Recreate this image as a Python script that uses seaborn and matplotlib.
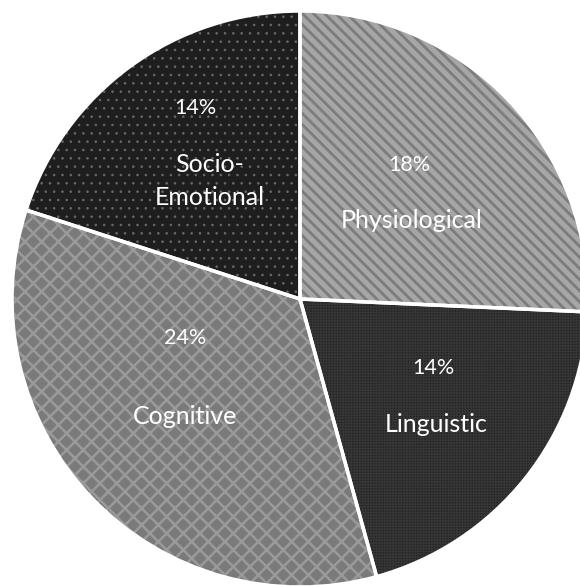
import matplotlib
matplotlib.use("Agg")
import matplotlib.pyplot as plt
import seaborn as sns

sns.set_style("white")
plt.rcParams['font.family'] = ['Lato', 'DejaVu Sans']
plt.rcParams['hatch.linewidth'] = 2.0

categories = ["Physiological", "Linguistic", "Cognitive", "Socio-\nEmotional"]
values = [18, 14, 24, 14]
pct_labels = ["18%", "14%", "24%", "14%"]

face_colors = ["#a6a6a6", "#232323", "#7a7a7a", "#1e1e1e"]
hatch_colors = ["#7c7c7c", "#363636", "#9a9a9a", "#6a6a6a"]
hatches = ["\\\\\\", "++++++", "xx", ".."]
hatch_lw = [2.0, 0.9, 1.8, 0.6]

# label positions (pixels from top-left) for percent and name
pct_pos = [(409, 165), (433, 368), (185, 338), (195, 108)]
name_pos = [(412, 221), (436, 425), (185, 416), (210, 181)]

W, H = 580, 586
fig = plt.figure(figsize=(W / 100, H / 100), dpi=100)
ax = fig.add_axes([0, 0, 1, 1])
ax.set_xlim(0, W)
ax.set_ylim(0, H)
ax.set_aspect("equal")
ax.axis("off")

cx, cy, r = 300, H - 299, 288

wedges, _ = ax.pie(values, startangle=90, counterclock=False,
                   colors=face_colors, center=(cx, cy), radius=r,
                   wedgeprops=dict(linewidth=0))
for w, hc, h, hl in zip(wedges, hatch_colors, hatches, hatch_lw):
    w.set_hatch(h)
    w.set_edgecolor(hc)
    w.set_linewidth(0)
    if hasattr(w, "set_hatch_linewidth"):
        w.set_hatch_linewidth(hl)
    else:
        w._hatch_linewidth = hl

# white separators
outl, _ = ax.pie(values, startangle=90, counterclock=False,
                 center=(cx, cy), radius=r,
                 wedgeprops=dict(facecolor="none", edgecolor="white", linewidth=2.5))
ax.set_xlim(0, W)
ax.set_ylim(0, H)

for (px, py), t in zip(pct_pos, pct_labels):
    ax.text(px, H - py, t, color="white", fontsize=15.5, ha="center", va="center")
for (px, py), t in zip(name_pos, categories):
    ax.text(px, H - py, t, color="white", fontsize=18, ha="center", va="center",
            linespacing=1.55)

fig.savefig("out.png", dpi=100)
